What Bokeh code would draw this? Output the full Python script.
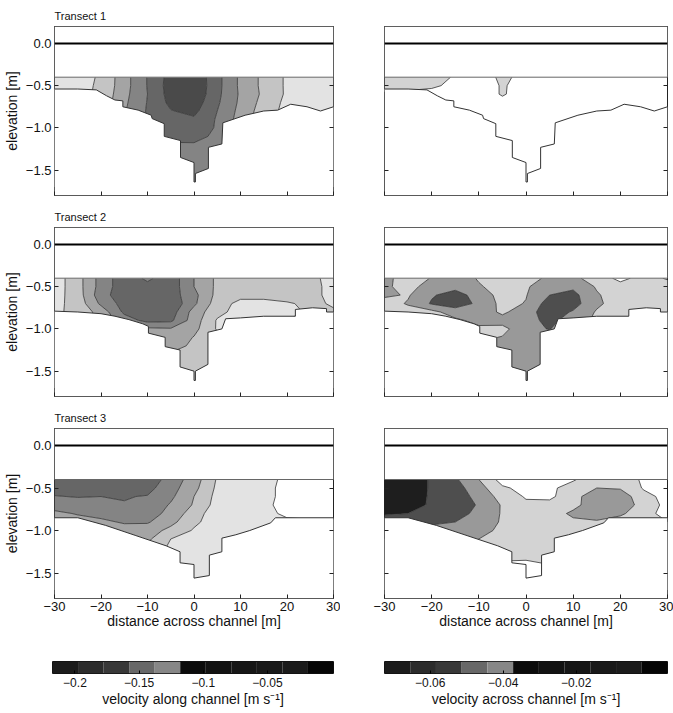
import numpy as np
from bokeh.plotting import figure
from bokeh.layouts import column, row
from bokeh.models import (Range1d, FixedTicker, LinearAxis, CustomJSTickFormatter,
                          Span, BoxAnnotation)
from bokeh.embed import file_html
from bokeh.resources import INLINE

FONT = "Liberation Sans"

# ---------------- data ----------------
dist = [-30, -25, -20, -15, -10, -5, 0, 5, 10, 15, 20, 25, 30]
elev = [-0.4, -0.5, -0.6, -0.7, -0.8, -0.9, -1.0, -1.1, -1.2, -1.3, -1.4, -1.5, -1.6, -1.7]

x_ticks = [-30, -20, -10, 0, 10, 20, 30]
y_ticks = [-1.5, -1.0, -0.5, 0.0]
x_lim = (-30, 30)
y_lim = (-1.8, 0.2)
surface_level = 0.0
blank_bottom = -0.4

along_levels = [-0.24, -0.20, -0.18, -0.16, -0.14, -0.12, -0.10]
along_colors = ["#4a4a4a", "#666666", "#848484", "#a4a4a4", "#c4c4c4", "#e3e3e3"]
across_levels = [-0.07, -0.06, -0.05, -0.04, -0.03]
across_colors = ["#1e1e1e", "#4e4e4e", "#999999", "#d3d3d3"]

# along-channel velocity [m/s], rows = elev, cols = dist
t1_along = [
    [-0.108, -0.114, -0.122, -0.152, -0.181, -0.208, -0.216, -0.186, -0.156, -0.135, -0.117, -0.112, -0.110],
    [-0.108, -0.114, -0.123, -0.152, -0.181, -0.209, -0.217, -0.186, -0.156, -0.135, -0.117, -0.112, -0.110],
    [-0.108, -0.114, -0.124, -0.154, -0.180, -0.208, -0.216, -0.185, -0.157, -0.136, -0.117, -0.112, -0.110],
    [-0.108, -0.114, -0.126, -0.156, -0.181, -0.205, -0.211, -0.183, -0.156, -0.133, -0.115, -0.112, -0.110],
    [-0.108, -0.114, -0.128, -0.158, -0.182, -0.199, -0.205, -0.180, -0.154, -0.130, -0.114, -0.110, -0.110],
    [-0.108, -0.114, -0.130, -0.160, -0.181, -0.194, -0.197, -0.178, -0.152, -0.128, -0.114, -0.110, -0.110],
    [-0.108, -0.114, -0.130, -0.160, -0.178, -0.189, -0.191, -0.178, -0.152, -0.128, -0.114, -0.110, -0.110],
    [-0.108, -0.114, -0.130, -0.160, -0.176, -0.185, -0.186, -0.176, -0.152, -0.128, -0.114, -0.110, -0.110],
    [-0.108, -0.114, -0.130, -0.160, -0.174, -0.178, -0.178, -0.172, -0.152, -0.128, -0.114, -0.110, -0.110],
    [-0.108, -0.114, -0.130, -0.160, -0.172, -0.174, -0.172, -0.168, -0.152, -0.128, -0.114, -0.110, -0.110],
    [-0.108, -0.114, -0.130, -0.160, -0.170, -0.172, -0.170, -0.166, -0.152, -0.128, -0.114, -0.110, -0.110],
    [-0.108, -0.114, -0.130, -0.160, -0.170, -0.170, -0.168, -0.166, -0.152, -0.128, -0.114, -0.110, -0.110],
    [-0.108, -0.114, -0.130, -0.160, -0.170, -0.170, -0.168, -0.166, -0.152, -0.128, -0.114, -0.110, -0.110],
    [-0.108, -0.114, -0.130, -0.160, -0.170, -0.170, -0.168, -0.166, -0.152, -0.128, -0.114, -0.110, -0.110],
]
t2_along = [
    [-0.110, -0.132, -0.168, -0.192, -0.176, -0.192, -0.160, -0.136, -0.130, -0.130, -0.130, -0.126, -0.112],
    [-0.110, -0.132, -0.168, -0.192, -0.186, -0.192, -0.160, -0.136, -0.130, -0.130, -0.130, -0.128, -0.112],
    [-0.112, -0.130, -0.172, -0.192, -0.194, -0.190, -0.166, -0.134, -0.126, -0.128, -0.128, -0.126, -0.114],
    [-0.114, -0.128, -0.164, -0.188, -0.194, -0.196, -0.164, -0.130, -0.114, -0.112, -0.118, -0.124, -0.118],
    [-0.116, -0.126, -0.148, -0.184, -0.194, -0.190, -0.152, -0.126, -0.112, -0.112, -0.116, -0.122, -0.122],
    [-0.116, -0.126, -0.146, -0.170, -0.186, -0.184, -0.150, -0.118, -0.120, -0.116, -0.120, -0.122, -0.122],
    [-0.116, -0.126, -0.144, -0.152, -0.156, -0.158, -0.146, -0.118, -0.120, -0.120, -0.120, -0.122, -0.122],
    [-0.116, -0.126, -0.140, -0.148, -0.152, -0.154, -0.139, -0.126, -0.122, -0.122, -0.122, -0.122, -0.122],
    [-0.116, -0.126, -0.136, -0.144, -0.148, -0.148, -0.136, -0.128, -0.124, -0.124, -0.124, -0.124, -0.124],
    [-0.116, -0.126, -0.132, -0.140, -0.142, -0.138, -0.132, -0.130, -0.126, -0.126, -0.126, -0.126, -0.126],
    [-0.116, -0.126, -0.130, -0.136, -0.136, -0.134, -0.132, -0.130, -0.126, -0.126, -0.126, -0.126, -0.126],
    [-0.116, -0.126, -0.130, -0.134, -0.134, -0.132, -0.132, -0.130, -0.126, -0.126, -0.126, -0.126, -0.126],
    [-0.116, -0.126, -0.130, -0.134, -0.134, -0.132, -0.132, -0.130, -0.126, -0.126, -0.126, -0.126, -0.126],
    [-0.116, -0.126, -0.130, -0.134, -0.134, -0.132, -0.132, -0.130, -0.126, -0.126, -0.126, -0.126, -0.126],
]
t3_along = [
    [-0.192, -0.194, -0.194, -0.192, -0.192, -0.172, -0.150, -0.118, -0.112, -0.106, -0.096, -0.090, -0.090],
    [-0.188, -0.190, -0.190, -0.190, -0.186, -0.168, -0.146, -0.116, -0.112, -0.106, -0.094, -0.090, -0.090],
    [-0.179, -0.181, -0.180, -0.181, -0.179, -0.164, -0.140, -0.114, -0.110, -0.106, -0.094, -0.090, -0.090],
    [-0.172, -0.172, -0.174, -0.179, -0.174, -0.158, -0.138, -0.112, -0.110, -0.104, -0.094, -0.090, -0.090],
    [-0.154, -0.162, -0.166, -0.168, -0.166, -0.156, -0.128, -0.110, -0.110, -0.106, -0.096, -0.092, -0.092],
    [-0.146, -0.150, -0.156, -0.162, -0.162, -0.146, -0.124, -0.110, -0.110, -0.108, -0.104, -0.104, -0.104],
    [-0.140, -0.144, -0.148, -0.152, -0.150, -0.134, -0.118, -0.110, -0.110, -0.110, -0.110, -0.110, -0.110],
    [-0.136, -0.140, -0.144, -0.146, -0.144, -0.120, -0.114, -0.110, -0.110, -0.110, -0.110, -0.110, -0.110],
    [-0.132, -0.136, -0.140, -0.140, -0.136, -0.116, -0.112, -0.110, -0.110, -0.110, -0.110, -0.110, -0.110],
    [-0.130, -0.132, -0.136, -0.136, -0.132, -0.114, -0.112, -0.110, -0.110, -0.110, -0.110, -0.110, -0.110],
    [-0.128, -0.130, -0.132, -0.132, -0.128, -0.114, -0.112, -0.110, -0.110, -0.110, -0.110, -0.110, -0.110],
    [-0.128, -0.130, -0.132, -0.132, -0.128, -0.114, -0.112, -0.110, -0.110, -0.110, -0.110, -0.110, -0.110],
    [-0.128, -0.130, -0.132, -0.132, -0.128, -0.114, -0.112, -0.110, -0.110, -0.110, -0.110, -0.110, -0.110],
    [-0.128, -0.130, -0.132, -0.132, -0.128, -0.114, -0.112, -0.110, -0.110, -0.110, -0.110, -0.110, -0.110],
]

# across-channel velocity [m/s]
t1_across = [
    [-0.036, -0.035, -0.034, -0.029, -0.025, -0.032, -0.027, -0.020, -0.020, -0.020, -0.020, -0.020, -0.020],
    [-0.035, -0.034, -0.032, -0.027, -0.024, -0.031, -0.026, -0.020, -0.020, -0.020, -0.020, -0.020, -0.020],
    [-0.028, -0.027, -0.026, -0.025, -0.024, -0.031, -0.025, -0.020, -0.020, -0.020, -0.020, -0.020, -0.020],
    [-0.022, -0.022, -0.022, -0.022, -0.022, -0.027, -0.022, -0.020, -0.020, -0.020, -0.020, -0.020, -0.020],
    [-0.021, -0.021, -0.021, -0.021, -0.021, -0.022, -0.021, -0.020, -0.020, -0.020, -0.020, -0.020, -0.020],
    [-0.020, -0.020, -0.020, -0.020, -0.020, -0.021, -0.021, -0.020, -0.020, -0.020, -0.020, -0.020, -0.020],
    [-0.020, -0.020, -0.020, -0.020, -0.020, -0.021, -0.021, -0.021, -0.020, -0.020, -0.020, -0.020, -0.020],
    [-0.020, -0.020, -0.020, -0.020, -0.020, -0.021, -0.022, -0.021, -0.020, -0.020, -0.020, -0.020, -0.020],
    [-0.020, -0.020, -0.020, -0.020, -0.020, -0.021, -0.022, -0.022, -0.020, -0.020, -0.020, -0.020, -0.020],
    [-0.020, -0.020, -0.020, -0.020, -0.020, -0.021, -0.023, -0.023, -0.020, -0.020, -0.020, -0.020, -0.020],
    [-0.020, -0.020, -0.020, -0.020, -0.020, -0.021, -0.024, -0.024, -0.020, -0.020, -0.020, -0.020, -0.020],
    [-0.020, -0.020, -0.020, -0.020, -0.020, -0.021, -0.025, -0.025, -0.020, -0.020, -0.020, -0.020, -0.020],
    [-0.020, -0.020, -0.020, -0.020, -0.020, -0.021, -0.025, -0.025, -0.020, -0.020, -0.020, -0.020, -0.020],
    [-0.020, -0.020, -0.020, -0.020, -0.020, -0.021, -0.025, -0.025, -0.020, -0.020, -0.020, -0.020, -0.020],
]
t2_across = [
    [-0.043, -0.035, -0.0405, -0.046, -0.039, -0.035, -0.032, -0.044, -0.042, -0.036, -0.027, -0.034, -0.029],
    [-0.042, -0.036, -0.045, -0.047, -0.041, -0.036, -0.039, -0.045, -0.048, -0.039, -0.034, -0.035, -0.034],
    [-0.042, -0.039, -0.049, -0.054, -0.046, -0.036, -0.0395, -0.050, -0.053, -0.041, -0.035, -0.035, -0.035],
    [-0.035, -0.041, -0.051, -0.055, -0.048, -0.037, -0.0405, -0.055, -0.054, -0.042, -0.035, -0.035, -0.035],
    [-0.034, -0.036, -0.037, -0.045, -0.046, -0.038, -0.046, -0.055, -0.049, -0.039, -0.034, -0.034, -0.034],
    [-0.034, -0.035, -0.036, -0.038, -0.043, -0.044, -0.046, -0.053, -0.045, -0.038, -0.034, -0.034, -0.034],
    [-0.034, -0.034, -0.035, -0.036, -0.038, -0.037, -0.047, -0.0505, -0.042, -0.036, -0.034, -0.034, -0.034],
    [-0.034, -0.034, -0.035, -0.036, -0.038, -0.0405, -0.046, -0.045, -0.040, -0.035, -0.034, -0.034, -0.034],
    [-0.034, -0.034, -0.035, -0.036, -0.039, -0.043, -0.046, -0.044, -0.039, -0.035, -0.034, -0.034, -0.034],
    [-0.034, -0.034, -0.035, -0.036, -0.039, -0.043, -0.045, -0.044, -0.039, -0.035, -0.034, -0.034, -0.034],
    [-0.034, -0.034, -0.035, -0.036, -0.039, -0.043, -0.044, -0.044, -0.039, -0.035, -0.034, -0.034, -0.034],
    [-0.034, -0.034, -0.035, -0.036, -0.039, -0.043, -0.044, -0.044, -0.039, -0.035, -0.034, -0.034, -0.034],
    [-0.034, -0.034, -0.035, -0.036, -0.039, -0.043, -0.044, -0.044, -0.039, -0.035, -0.034, -0.034, -0.034],
    [-0.034, -0.034, -0.035, -0.036, -0.039, -0.043, -0.044, -0.044, -0.039, -0.035, -0.034, -0.034, -0.034],
]
t3_across = [
    [-0.066, -0.065, -0.059, -0.0515, -0.040, -0.026, -0.024, -0.025, -0.029, -0.036, -0.037, -0.028, -0.026],
    [-0.066, -0.065, -0.059, -0.054, -0.044, -0.0315, -0.027, -0.028, -0.034, -0.040, -0.039, -0.029, -0.026],
    [-0.065, -0.064, -0.059, -0.055, -0.047, -0.036, -0.029, -0.028, -0.036, -0.047, -0.046, -0.033, -0.027],
    [-0.064, -0.063, -0.059, -0.056, -0.049, -0.039, -0.032, -0.033, -0.037, -0.046, -0.046, -0.036, -0.027],
    [-0.061, -0.060, -0.057, -0.053, -0.048, -0.039, -0.034, -0.035, -0.042, -0.044, -0.042, -0.033, -0.027],
    [-0.055, -0.054, -0.051, -0.050, -0.045, -0.039, -0.035, -0.035, -0.038, -0.039, -0.035, -0.033, -0.030],
    [-0.052, -0.050, -0.048, -0.046, -0.043, -0.038, -0.036, -0.035, -0.035, -0.035, -0.034, -0.033, -0.030],
    [-0.050, -0.048, -0.046, -0.044, -0.040, -0.036, -0.036, -0.035, -0.035, -0.035, -0.034, -0.033, -0.030],
    [-0.048, -0.046, -0.044, -0.042, -0.038, -0.035, -0.035, -0.035, -0.035, -0.035, -0.034, -0.033, -0.030],
    [-0.046, -0.044, -0.042, -0.040, -0.036, -0.033, -0.033, -0.034, -0.035, -0.035, -0.034, -0.033, -0.030],
    [-0.044, -0.042, -0.040, -0.038, -0.034, -0.028, -0.027, -0.030, -0.034, -0.034, -0.033, -0.032, -0.030],
    [-0.044, -0.042, -0.040, -0.038, -0.034, -0.027, -0.026, -0.027, -0.034, -0.034, -0.033, -0.032, -0.030],
    [-0.044, -0.042, -0.040, -0.038, -0.034, -0.027, -0.026, -0.027, -0.034, -0.034, -0.033, -0.032, -0.030],
    [-0.044, -0.042, -0.040, -0.038, -0.034, -0.027, -0.026, -0.027, -0.034, -0.034, -0.033, -0.032, -0.030],
]

# channel bed (distance [m], elevation [m])
t1_bed_x = [-30, -25, -21, -18.8, -17, -15.3, -15.3, -12, -9.2, -9, -6.4, -6.4, -2.9, -2.9, 0, 0, 0.3, 0.3,
            3.1, 3.1, 6, 6.2, 11, 15, 18, 20.8, 24.3, 27.2, 30]
t1_bed_z = [-0.54, -0.54, -0.55, -0.62, -0.67, -0.68, -0.75, -0.79, -0.85, -0.89, -0.95, -1.10, -1.15, -1.35,
            -1.41, -1.64, -1.64, -1.54, -1.48, -1.23, -1.19, -0.94, -0.85, -0.80, -0.79, -0.72, -0.75, -0.80, -0.75]
t2_bed_x = [-30, -25, -20, -17, -14, -11, -9.8, -9.8, -6.2, -6.2, -3, -3, 0, 0, 0.3, 0.3, 3, 3, 6, 6.8,
            10, 15, 21.8, 21.8, 25.5, 28.5, 28.5, 30]
t2_bed_z = [-0.79, -0.80, -0.82, -0.85, -0.89, -0.94, -0.97, -1.05, -1.10, -1.21, -1.25, -1.45, -1.50, -1.61,
            -1.61, -1.50, -1.42, -1.04, -1.00, -0.88, -0.87, -0.85, -0.85, -0.77, -0.75, -0.76, -0.80, -0.80]
t3_bed_x = [-30, -25, -19, -12.5, -6, -3, -3, 0, 0, 3.3, 3.3, 6, 6, 9, 12, 16.5, 17.5, 30]
t3_bed_z = [-0.85, -0.85, -0.94, -1.06, -1.18, -1.25, -1.38, -1.40, -1.56, -1.53, -1.29, -1.25, -1.09, -1.05,
            -1.00, -0.91, -0.85, -0.85]

titles = ["Transect 1", "Transect 2", "Transect 3"]

# colour bars
cbar_colors = ["#1c1c1c", "#2c2c2c", "#383838", "#686868", "#878787", "#0b0b0b",
               "#121212", "#161616", "#191919", "#1b1b1b", "#050505"]
along_cbar_range = (-0.2175, 0.0015)
along_cbar_ticks = [-0.2, -0.15, -0.1, -0.05]
across_cbar_range = (-0.0725, 0.005)
across_cbar_ticks = [-0.06, -0.04, -0.02]

# ---------------- layout constants (page has no margin) ----------------
LEFT_W, RIGHT_W = 340, 333
LEFT_BL, LEFT_BR = 52, 7
RIGHT_BL, RIGHT_BR = 44, 6
ROW_H = [202, 202, 228]
ROW_TOP = [26, 25, 24]
ROW_BOT = [7, 8, 34]
TICK_FS = "13px"
LABEL_FS = "14px"


def js_fmt(code):
    return CustomJSTickFormatter(code=code)


def make_axis(ticks, show_labels, formatter=None, label=None, label_standoff=2):
    ax = LinearAxis(ticker=FixedTicker(ticks=ticks))
    ax.major_tick_in = 4
    ax.major_tick_out = 0
    ax.major_tick_line_color = "#222222"
    ax.minor_tick_line_color = None
    ax.axis_line_color = None
    if show_labels:
        ax.formatter = formatter
        ax.major_label_text_font = FONT
        ax.major_label_text_font_size = TICK_FS
        ax.major_label_text_color = "#111111"
        ax.major_label_standoff = 3
    else:
        ax.formatter = js_fmt("return '';")
        ax.major_label_text_font_size = "0px"
        ax.major_label_standoff = 0
    if label is not None:
        ax.axis_label = label
        ax.axis_label_text_font = FONT
        ax.axis_label_text_font_size = LABEL_FS
        ax.axis_label_text_font_style = "normal"
        ax.axis_label_text_color = "#111111"
        ax.axis_label_standoff = label_standoff
    return ax


def panel(field, levels, colors, bed_x, bed_z, is_left, r):
    p = figure(width=LEFT_W if is_left else RIGHT_W, height=ROW_H[r],
               x_range=Range1d(*x_lim), y_range=Range1d(*y_lim),
               x_axis_type=None, y_axis_type=None,
               output_backend="svg", toolbar_location=None,
               min_border_left=LEFT_BL if is_left else RIGHT_BL,
               min_border_right=LEFT_BR if is_left else RIGHT_BR,
               min_border_top=ROW_TOP[r], min_border_bottom=ROW_BOT[r])
    p.outline_line_color = "#222222"
    p.outline_line_width = 1
    p.background_fill_color = "white"
    p.border_fill_color = "white"

    z = np.array(field)[::-1]
    y = np.array(elev)[::-1]
    p.contour(x=dist, y=y, z=z, levels=levels, fill_color=colors,
              line_color="#333333", line_width=0.8)
    floor = [y_lim[0]] * len(bed_x)
    p.varea(x=bed_x, y1=bed_z, y2=floor, fill_color="white")
    p.line(bed_x, bed_z, line_color="#333333", line_width=1)

    p.add_layout(BoxAnnotation(bottom=blank_bottom, fill_color="white", fill_alpha=1.0,
                               line_color="#666666", line_alpha=1.0, line_width=1))
    p.add_layout(Span(location=surface_level, dimension="width",
                      line_color="black", line_width=2))

    xfmt = js_fmt("return tick.toFixed(0).replace('-', '\\u2212');")
    yfmt = js_fmt("return tick.toFixed(1).replace('-', '\\u2212');")
    bottom_labels = (r == 2)
    p.add_layout(make_axis(x_ticks, bottom_labels, xfmt,
                           "distance across channel [m]" if bottom_labels else None,
                           label_standoff=-1), "below")
    p.add_layout(make_axis(x_ticks, False), "above")
    p.add_layout(make_axis(y_ticks, is_left, yfmt,
                           "elevation [m]" if is_left else None, label_standoff=3), "left")
    p.add_layout(make_axis(y_ticks, False), "right")

    if is_left:
        p.title.text = titles[r]
        p.title.align = "left"
        p.title.offset = 0
        p.title.standoff = 9
        p.title.text_font = FONT
        p.title.text_font_size = "11px"
        p.title.text_font_style = "normal"
        p.title.text_color = "#111111"
    return p


def cbar(rng, ticks, label, is_left):
    p = figure(width=LEFT_W if is_left else RIGHT_W, height=78,
               x_range=Range1d(*rng), y_range=Range1d(0, 1),
               x_axis_type=None, y_axis_type=None,
               output_backend="svg", toolbar_location=None,
               min_border_left=LEFT_BL if is_left else RIGHT_BL,
               min_border_right=LEFT_BR if is_left else RIGHT_BR,
               min_border_top=29, min_border_bottom=37)
    p.outline_line_color = "#111111"
    p.border_fill_color = "white"
    edges = np.linspace(rng[0], rng[1], len(cbar_colors) + 1)
    p.quad(left=edges[:-1], right=edges[1:], bottom=0, top=1,
           fill_color=cbar_colors, line_color=None)
    ax = LinearAxis(ticker=FixedTicker(ticks=ticks))
    ax.formatter = js_fmt("return String(tick).replace('-', '\\u2212');")
    ax.major_tick_in = 3
    ax.major_tick_out = 0
    ax.major_tick_line_color = "#000000"
    ax.minor_tick_line_color = None
    ax.axis_line_color = None
    ax.major_label_text_font = FONT
    ax.major_label_text_font_size = "12px"
    ax.major_label_text_color = "#111111"
    ax.major_label_standoff = 4
    ax.axis_label = label
    ax.axis_label_text_font = FONT
    ax.axis_label_text_font_size = "14px"
    ax.axis_label_text_font_style = "normal"
    ax.axis_label_text_color = "#111111"
    ax.axis_label_standoff = 1
    p.add_layout(ax, "below")
    return p


along_fields = [t1_along, t2_along, t3_along]
across_fields = [t1_across, t2_across, t3_across]
beds = [(t1_bed_x, t1_bed_z), (t2_bed_x, t2_bed_z), (t3_bed_x, t3_bed_z)]

rows = []
for r in range(3):
    bx, bz = beds[r]
    left = panel(along_fields[r], along_levels, along_colors, bx, bz, True, r)
    right = panel(across_fields[r], across_levels, across_colors, bx, bz, False, r)
    rows.append(row(left, right))

rows.append(row(cbar(along_cbar_range, along_cbar_ticks, "velocity along channel [m s\u207b\u00b9]", True),
                cbar(across_cbar_range, across_cbar_ticks, "velocity across channel [m s\u207b\u00b9]", False)))

layout = column(*rows)
open("out.html", "w").write(file_html(layout, INLINE))
